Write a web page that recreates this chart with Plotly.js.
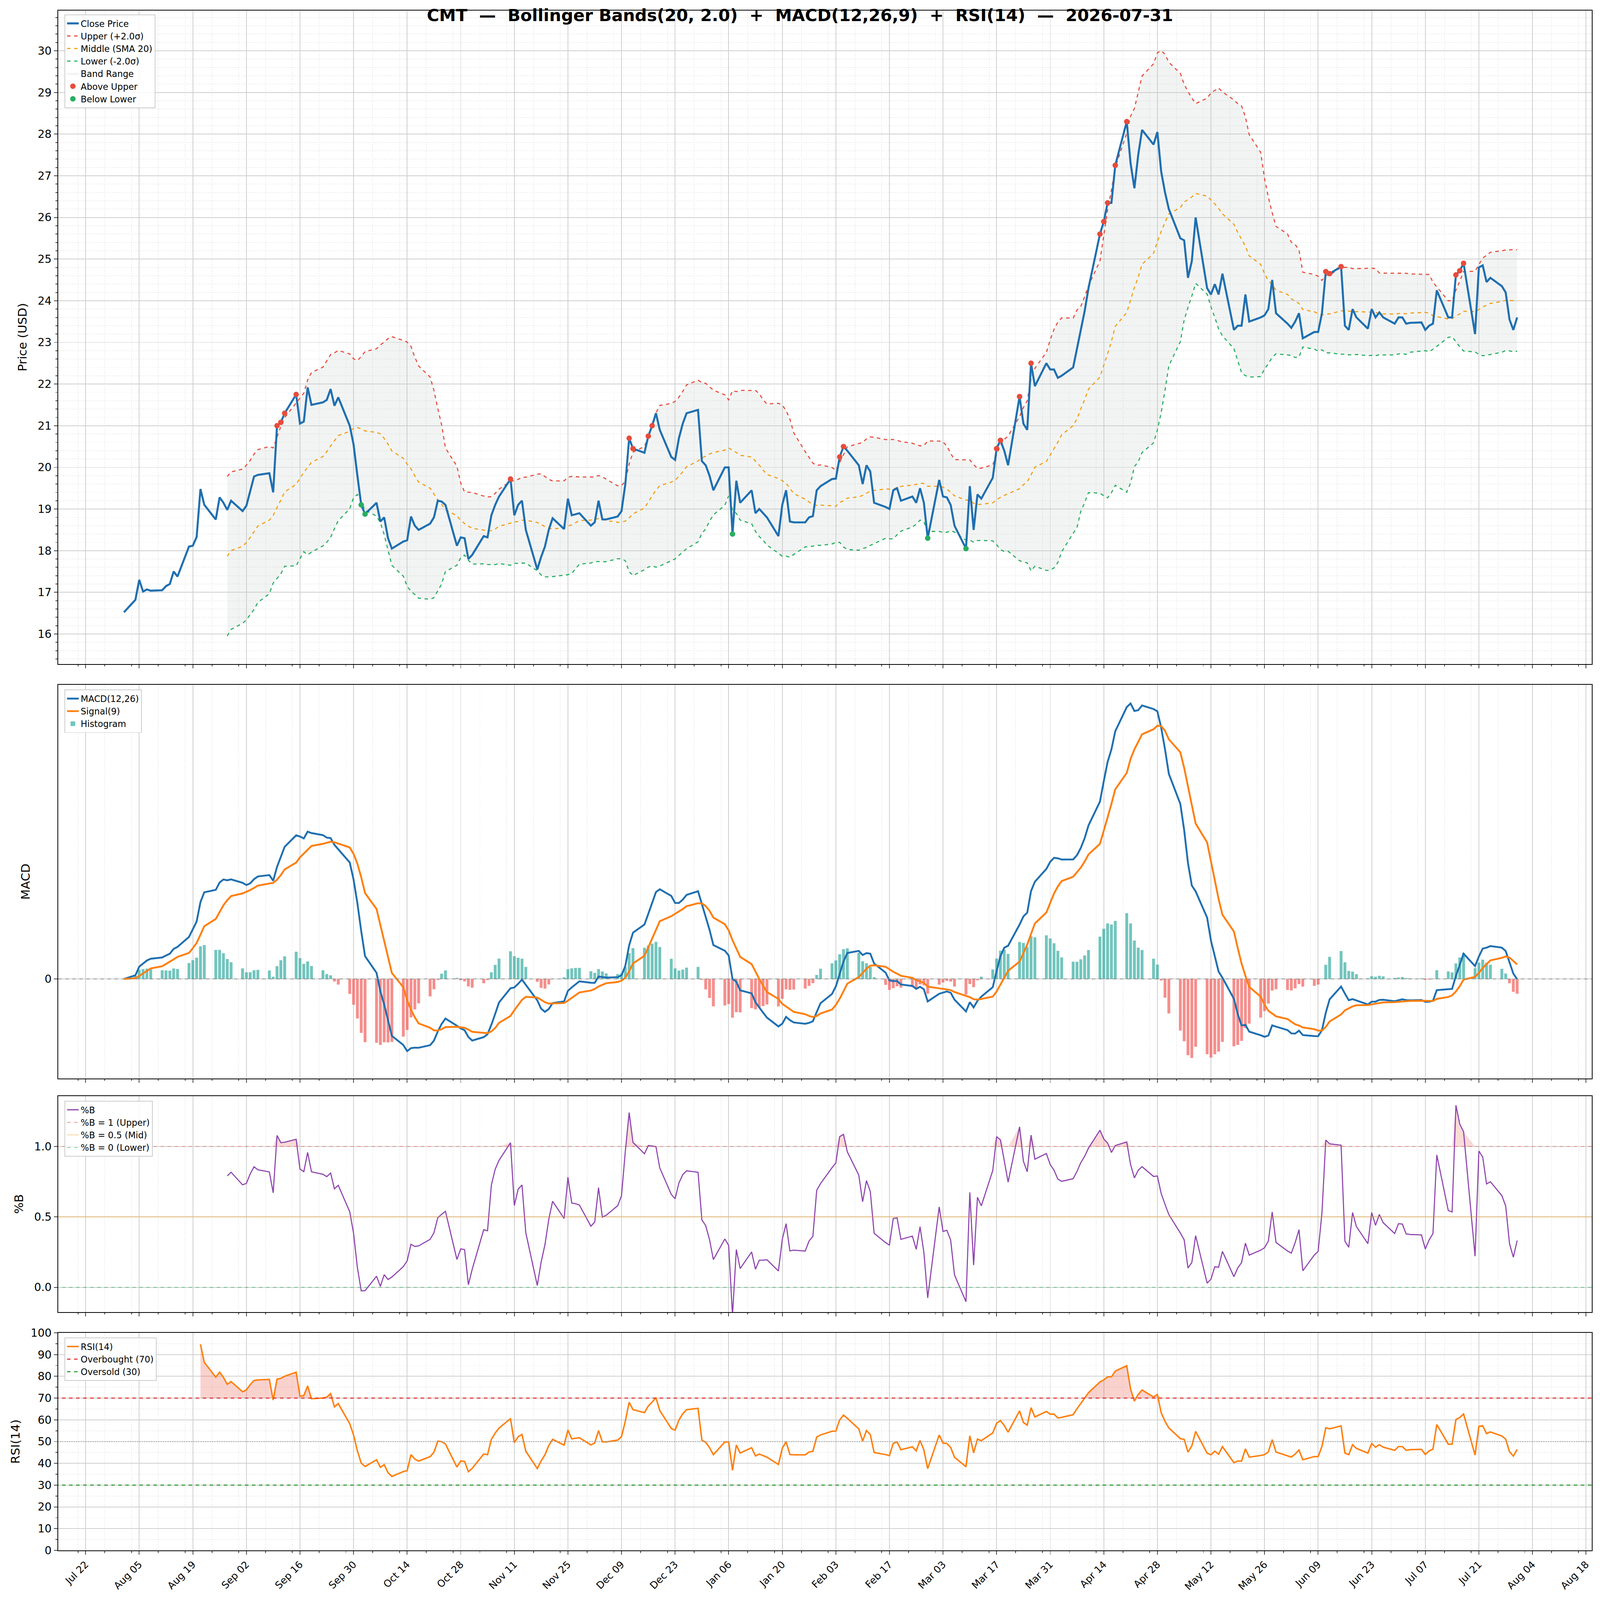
<!DOCTYPE html>
<html>
<head>
<meta charset="utf-8">
<script src="https://cdn.plot.ly/plotly-3.0.1.min.js"></script>
<style>html,body{margin:0;padding:0;overflow:hidden;background:#fff}#chart{width:100vw;height:100vh}</style>
</head>
<body>
<div id="chart"></div>
<script>
// closing prices, one row per week (Mon..Fri), first week starts Mon 2025-07-28
var firstMonday = '2025-07-28';
var closeWeeks = [
  [null, null, null, null, 16.52],
  [16.82, 17.30, 17.02, 17.07, 17.04],
  [17.05, 17.15, 17.20, 17.50, 17.38],
  [18.10, 18.12, 18.33, 19.48, 19.10],
  [18.75, 19.28, 19.15, 18.98, 19.20],
  [18.95, 19.08, 19.45, 19.78, 19.82],
  [19.86, 19.40, 21.00, 21.08, 21.30],
  [21.75, 21.05, 21.10, 21.92, 21.50],
  [21.56, 21.62, 21.88, 21.48, 21.68],
  [21.00, 20.55, 19.80, 19.10, 18.88],
  [19.15, 18.70, 18.80, 18.30, 18.05],
  [18.22, 18.25, 18.82, 18.60, 18.50],
  [18.65, 18.80, 19.20, 19.18, 19.10],
  [18.12, 18.32, 18.30, 17.80, 17.90],
  [18.35, 18.32, 18.85, 19.10, 19.30],
  [19.72, 18.85, 19.10, 19.20, 18.50],
  [17.55, 17.85, 18.10, 18.50, 18.78],
  [18.52, 19.25, 18.85, 18.88, 18.90],
  [18.60, 18.68, 19.20, 18.75, 18.75],
  [18.82, 18.95, 19.60, 20.70, 20.45],
  [20.35, 20.75, 21.00, 21.30, 20.90],
  [20.25, 20.18, 20.70, 21.05, 21.30],
  [21.38, 20.15, 20.05, 19.80, 19.45],
  [20.00, 20.00, 18.40, 19.68, 19.15],
  [19.45, 18.90, 19.00, 18.90, 18.80],
  [18.35, 19.10, 19.45, 18.70, 18.68],
  [18.68, 18.80, 18.83, 19.45, 19.55],
  [19.72, 19.73, 20.25, 20.50, 20.40],
  [20.05, 19.60, 20.05, 19.90, 19.15],
  [19.05, 19.00, 19.45, 19.50, 19.20],
  [19.30, 19.15, 19.50, 19.15, 18.30],
  [19.70, 19.30, 19.28, 19.10, 18.60],
  [18.05, 19.55, 18.50, 19.35, 19.25],
  [19.75, 20.45, 20.65, 20.40, 20.05],
  [21.70, 21.05, 20.90, 22.50, 21.95],
  [22.50, 22.35, 22.35, 22.15, 22.20],
  [22.40, 22.85, 23.30, 23.75, 24.30],
  [25.60, 25.90, 26.35, 26.35, 27.25],
  [28.30, 27.30, 26.70, 27.50, 28.10],
  [27.75, 28.05, 27.10, 26.60, 26.20],
  [25.50, 25.45, 24.55, 24.95, 26.00],
  [24.30, 24.15, 24.40, 24.15, 24.65],
  [23.30, 23.40, 23.40, 24.15, 23.50],
  [23.60, 23.65, 23.80, 24.50, 23.70],
  [23.45, 23.35, 23.50, 23.70, 23.10],
  [23.25, 23.25, 23.70, 24.70, 24.65],
  [24.82, 23.40, 23.30, 23.80, 23.60],
  [23.33, 23.80, 23.60, 23.72, 23.60],
  [23.45, 23.60, 23.60, 23.45, 23.47],
  [23.48, 23.30, 23.40, 23.45, 24.25],
  [23.60, 23.60, 24.62, 24.72, 24.90],
  [23.20, 24.80, 24.85, 24.45, 24.55],
  [24.35, 24.20, 23.55, 23.30, 23.60]
];
var tickDates = [];
var tickLabels = [];

// --- flatten into dates / closes
var dates = [], close = [];
var d0 = new Date(firstMonday + 'T00:00:00Z');
closeWeeks.forEach(function (wk, w) {
  wk.forEach(function (v, k) {
    if (v === null) return;
    var d = new Date(d0.getTime() + (w * 7 + k) * 86400000);
    dates.push(d.toISOString().slice(0, 10));
    close.push(v);
  });
});

// --- x ticks every 14 days from Jul 22 to Aug 18
var months = ['Jan','Feb','Mar','Apr','May','Jun','Jul','Aug','Sep','Oct','Nov','Dec'];
var t0 = new Date('2025-07-22T00:00:00Z');
for (var i = 0; i < 29; i++) {
  var t = new Date(t0.getTime() + i * 14 * 86400000);
  tickDates.push(t.toISOString().slice(0, 10));
  tickLabels.push(months[t.getUTCMonth()] + ' ' + String(t.getUTCDate()).padStart(2, '0'));
}

// --- indicators
var N = close.length;
var mid = [], up = [], lo = [], pctB = [];
for (var i = 0; i < N; i++) {
  if (i < 19) { mid.push(null); up.push(null); lo.push(null); pctB.push(null); continue; }
  var s = 0;
  for (var j = i - 19; j <= i; j++) s += close[j];
  var m = s / 20, v = 0;
  for (var j = i - 19; j <= i; j++) v += (close[j] - m) * (close[j] - m);
  var sd = Math.sqrt(v / 19);
  mid.push(m); up.push(m + 2 * sd); lo.push(m - 2 * sd);
  pctB.push((close[i] - (m - 2 * sd)) / (4 * sd));
}
function ema(arr, span) {
  var a = 2 / (span + 1), out = [arr[0]];
  for (var i = 1; i < arr.length; i++) out.push(a * arr[i] + (1 - a) * out[i - 1]);
  return out;
}
var e12 = ema(close, 12), e26 = ema(close, 26);
var macd = e12.map(function (v, i) { return v - e26[i]; });
var signal = ema(macd, 9);
var hist = macd.map(function (v, i) { return v - signal[i]; });
// Wilder smoothing
var rsi = [], ag = 0, al = 0;
for (var i = 0; i < N; i++) {
  if (i === 0) { rsi.push(null); continue; }
  var dd = close[i] - close[i - 1];
  var g = dd > 0 ? dd : 0, l = dd < 0 ? -dd : 0;
  if (i === 1) { ag = g; al = l; } else { ag = ag + (g - ag) / 14; al = al + (l - al) / 14; }
  if (i < 14) { rsi.push(null); continue; }
  rsi.push(al === 0 ? 100 : 100 - 100 / (1 + ag / al));
}
var aboveX = [], aboveY = [], belowX = [], belowY = [];
for (var i = 0; i < N; i++) {
  if (up[i] !== null && close[i] > up[i]) { aboveX.push(dates[i]); aboveY.push(close[i]); }
  if (lo[i] !== null && close[i] < lo[i]) { belowX.push(dates[i]); belowY.push(close[i]); }
}
var macdMax = Math.max.apply(null, macd);

var W = window.innerWidth, H = window.innerHeight;
var S = W / 4378;
var FONT = 'DejaVu Sans, sans-serif';
var data = [
  { x: dates, y: up, mode: 'lines', line: { width: 0 }, showlegend: false, hoverinfo: 'skip' },
  { x: dates, y: lo, mode: 'lines', line: { width: 0 }, fill: 'tonexty',
    fillcolor: 'rgba(190,200,195,0.2)', name: 'Band Range', legendrank: 5 },
  { x: dates, y: up, mode: 'lines', name: 'Upper (+2.0σ)', line: { color: '#e74c3c', width: 3 * S, dash: 'dash' }, legendrank: 2 },
  { x: dates, y: mid, mode: 'lines', name: 'Middle (SMA 20)', line: { color: '#f39c12', width: 3 * S, dash: 'dash' }, legendrank: 3 },
  { x: dates, y: lo, mode: 'lines', name: 'Lower (-2.0σ)', line: { color: '#27ae60', width: 3 * S, dash: 'dash' }, legendrank: 4 },
  { x: dates, y: close, mode: 'lines', name: 'Close Price', line: { color: '#1f6fb0', width: 5.5 * S }, legendrank: 1 },
  { x: aboveX, y: aboveY, mode: 'markers', name: 'Above Upper', marker: { color: '#e74c3c', size: 15 * S }, legendrank: 6 },
  { x: belowX, y: belowY, mode: 'markers', name: 'Below Lower', marker: { color: '#27ae60', size: 15 * S }, legendrank: 7 },

  { x: dates, y: hist, type: 'bar', yaxis: 'y2', xaxis: 'x2', name: 'Histogram', legend: 'legend2', legendrank: 3,
    marker: { color: hist.map(function (h) { return h >= 0 ? 'rgba(38,166,154,0.65)' : 'rgba(239,83,80,0.65)'; }) } },
  { x: dates, y: macd, yaxis: 'y2', xaxis: 'x2', mode: 'lines', name: 'MACD(12,26)', legend: 'legend2', legendrank: 1,
    line: { color: '#1f6fb0', width: 5 * S } },
  { x: dates, y: signal, yaxis: 'y2', xaxis: 'x2', mode: 'lines', name: 'Signal(9)', legend: 'legend2', legendrank: 2,
    line: { color: '#ff7f0e', width: 5 * S } },

  { x: dates, y: pctB.map(function (v) { return v === null ? null : 1; }), yaxis: 'y3', xaxis: 'x3', mode: 'lines',
    line: { width: 0 }, showlegend: false, hoverinfo: 'skip' },
  { x: dates, y: pctB.map(function (v) { return v === null ? null : Math.max(v, 1); }), yaxis: 'y3', xaxis: 'x3', mode: 'lines',
    line: { width: 0 }, fill: 'tonexty', fillcolor: 'rgba(231,76,60,0.2)', showlegend: false, hoverinfo: 'skip' },
  { x: dates, y: pctB, yaxis: 'y3', xaxis: 'x3', mode: 'lines', name: '%B', legend: 'legend3',
    line: { color: '#8e44ad', width: 3 * S } },
  { x: ['2025-07-14', '2026-08-20'], y: [1, 1], yaxis: 'y3', xaxis: 'x3', mode: 'lines', name: '%B = 1 (Upper)', legend: 'legend3',
    line: { color: 'rgba(231,76,60,0.6)', width: 2 * S, dash: 'dash' } },
  { x: ['2025-07-14', '2026-08-20'], y: [0.5, 0.5], yaxis: 'y3', xaxis: 'x3', mode: 'lines', name: '%B = 0.5 (Mid)', legend: 'legend3',
    line: { color: 'rgba(243,156,18,0.5)', width: 2 * S } },
  { x: ['2025-07-14', '2026-08-20'], y: [0, 0], yaxis: 'y3', xaxis: 'x3', mode: 'lines', name: '%B = 0 (Lower)', legend: 'legend3',
    line: { color: 'rgba(39,174,96,0.7)', width: 2 * S, dash: 'dash' } },

  { x: dates, y: rsi.map(function (v) { return v === null ? null : 70; }), yaxis: 'y4', xaxis: 'x4', mode: 'lines',
    line: { width: 0 }, showlegend: false, hoverinfo: 'skip' },
  { x: dates, y: rsi.map(function (v) { return v === null ? null : Math.max(v, 70); }), yaxis: 'y4', xaxis: 'x4', mode: 'lines',
    line: { width: 0 }, fill: 'tonexty', fillcolor: 'rgba(231,76,60,0.25)', showlegend: false, hoverinfo: 'skip' },
  { x: dates, y: rsi, yaxis: 'y4', xaxis: 'x4', mode: 'lines', name: 'RSI(14)', legend: 'legend4',
    line: { color: '#ff7f0e', width: 4 * S } },
  { x: ['2025-07-14', '2026-08-20'], y: [70, 70], yaxis: 'y4', xaxis: 'x4', mode: 'lines', name: 'Overbought (70)', legend: 'legend4',
    line: { color: '#e03030', width: 3 * S, dash: 'dash' } },
  { x: ['2025-07-14', '2026-08-20'], y: [30, 30], yaxis: 'y4', xaxis: 'x4', mode: 'lines', name: 'Oversold (30)', legend: 'legend4',
    line: { color: '#2a9a2a', width: 3 * S, dash: 'dash' } },
  { x: ['2025-07-14', '2026-08-20'], y: [50, 50], yaxis: 'y4', xaxis: 'x4', mode: 'lines', showlegend: false,
    line: { color: '#999', width: 2 * S, dash: 'dot' } }
];

var xr = ['2025-07-14T20:00:00', '2026-08-19T12:00:00'];
function xax(anchor, showLabels) {
  return {
    type: 'date', range: xr, anchor: anchor,
    tickvals: tickDates, ticktext: tickLabels, showticklabels: showLabels, tickangle: -45,
    ticks: 'outside', ticklen: 10 * S, tickwidth: 2 * S,
    showgrid: true, gridcolor: '#cfcfcf', gridwidth: 2 * S,
    minor: { dtick: 7 * 86400000, showgrid: true, gridcolor: '#ececec', griddash: 'dot', ticks: 'outside', ticklen: 5 * S },
    showline: true, linecolor: '#000', linewidth: 2 * S, mirror: true, zeroline: false,
    tickfont: { size: 27 * S, family: FONT }
  };
}
function yax(domain, extra) {
  var o = {
    domain: domain, showline: true, linecolor: '#000', linewidth: 2 * S, mirror: true, zeroline: false,
    ticks: 'outside', ticklen: 10 * S, tickwidth: 2 * S, showgrid: true, gridcolor: '#cfcfcf', gridwidth: 2 * S,
    tickfont: { size: 30 * S, family: FONT }
  };
  for (var k in extra) o[k] = extra[k];
  return o;
}
function minorY(dt) {
  return { dtick: dt, showgrid: true, gridcolor: '#ececec', griddash: 'dot', ticks: 'outside', ticklen: 5 * S };
}
function leg(y) {
  return { x: 0.004, y: y, xanchor: 'left', yanchor: 'top', bgcolor: 'rgba(255,255,255,0.85)',
    bordercolor: '#ccc', borderwidth: 2 * S, font: { size: 24 * S, family: FONT }, traceorder: 'normal' };
}
function ttl(t, st) { return { text: t, font: { size: 33 * S, family: FONT }, standoff: st * S }; }

var layout = {
  width: W, height: H,
  margin: { l: 159 * S, r: 22 * S, t: 0, b: 0 },
  paper_bgcolor: '#fff', plot_bgcolor: '#fff',
  font: { family: FONT, color: '#000' },
  title: { text: '<b>CMT  —  Bollinger Bands(20, 2.0)  +  MACD(12,26,9)  +  RSI(14)  —  2026-07-31</b>',
    x: 0.5, xanchor: 'center', y: 0.9905, yanchor: 'middle', font: { size: 46 * S, family: FONT } },
  bargap: 0.25,
  xaxis: xax('y', false),
  xaxis2: xax('y2', false),
  xaxis3: xax('y3', false),
  xaxis4: xax('y4', true),
  yaxis: yax([0.585, 0.9935], { range: [15.28, 30.97], dtick: 1, minor: minorY(0.2), title: ttl('Price (USD)', 20) }),
  yaxis2: yax([0.326, 0.572], { range: [-(1043 - 947) / (947 - 681) * macdMax, (947 - 663) / (947 - 681) * macdMax],
    tickvals: [0], ticktext: ['0'], title: ttl('MACD', 30) }),
  yaxis3: yax([0.180, 0.315], { range: [-0.175, 1.358], tickvals: [0, 0.5, 1], ticktext: ['0.0', '0.5', '1.0'], title: ttl('%B', 20) }),
  yaxis4: yax([0.031, 0.167], { range: [0, 100], dtick: 10, minor: minorY(5), title: ttl('RSI(14)', 20) }),
  legend: leg(0.991),
  legend2: leg(0.569),
  legend3: leg(0.312),
  legend4: leg(0.164),
  shapes: [
    { type: 'line', xref: 'x2 domain', yref: 'y2', x0: 0, x1: 1, y0: 0, y1: 0, line: { color: '#888', width: 2 * S, dash: 'dash' } }
  ]
};

Plotly.newPlot('chart', data, layout, { displayModeBar: false, staticPlot: true });
</script>
</body>
</html>
